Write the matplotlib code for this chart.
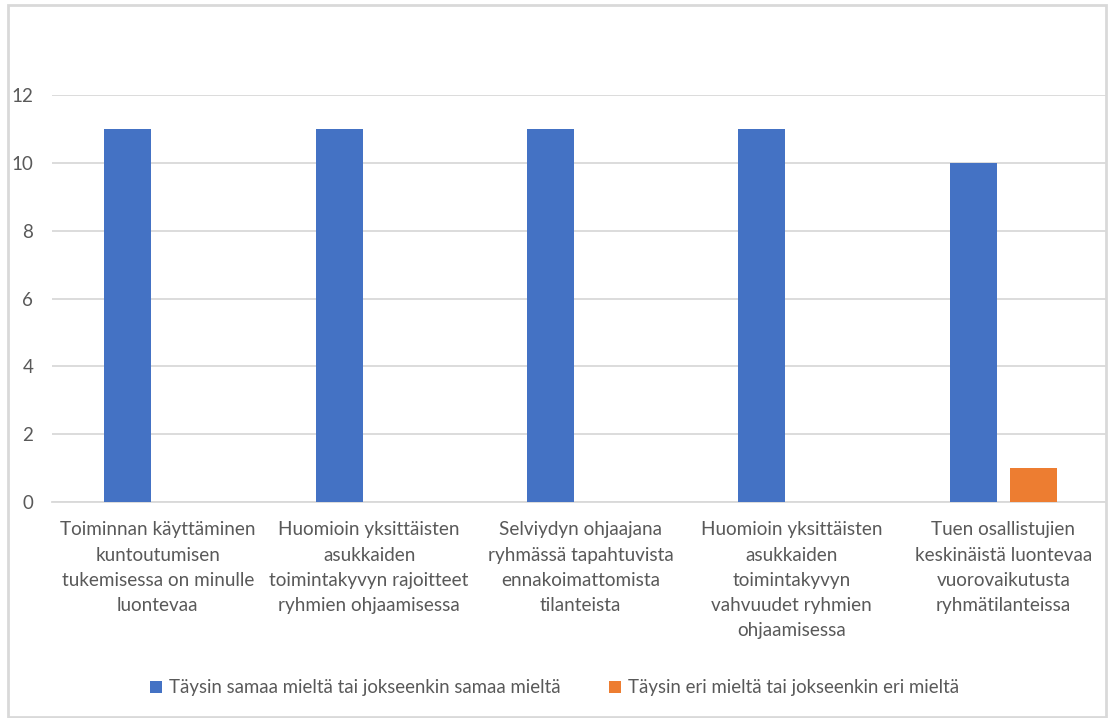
import matplotlib
matplotlib.use("Agg")
import matplotlib.pyplot as plt
import numpy as np
from matplotlib.patches import Rectangle

# ── Dados ─────────────────────────────────────────────────────
categorias = [
    "Toiminnan käyttäminen\nkuntoutumisen\ntukemisessa on minulle\nluontevaa",
    "Huomioin yksittäisten\nasukkaiden\ntoimintakyvyn rajoitteet\nryhmien ohjaamisessa",
    "Selviydyn ohjaajana\nryhmässä tapahtuvista\nennakoimattomista\ntilanteista",
    "Huomioin yksittäisten\nasukkaiden\ntoimintakyvyn\nvahvuudet ryhmien\nohjaamisessa",
    "Tuen osallistujien\nkeskinäistä luontevaa\nvuorovaikutusta\nryhmätilanteissa",
]
samaa_mielta = [11, 11, 11, 11, 10]
eri_mielta   = [0, 0, 0, 0, 1]
serie_nomes  = ["Täysin samaa mieltä tai jokseenkin samaa mieltä",
                "Täysin eri mieltä tai jokseenkin eri mieltä"]
y_ticks      = [0, 2, 4, 6, 8, 10, 12]
# ─────────────────────────────────────────────────────────────

AZUL    = "#4472c4"
LARANJA = "#ed7d31"
CINZA   = "#d9d9d9"
TEXTO   = "#595959"

plt.rcParams["font.family"] = ["Lato", "DejaVu Sans"]

fig = plt.figure(figsize=(11.09, 7.18), dpi=100)
ax = fig.add_axes([52 / 1109, 1 - 502 / 718, (1106 - 52) / 1109, (502 - 95) / 718])

x = np.arange(len(categorias))
larg = 0.223
desl = 0.142
ax.bar(x - desl, samaa_mielta, width=larg, color=AZUL, label=serie_nomes[0], zorder=3)
ax.bar(x + desl, eri_mielta, width=larg, color=LARANJA, label=serie_nomes[1], zorder=3)

ax.set_xlim(-0.5, len(categorias) - 0.5 - 0.014)
ax.set_ylim(0, 12)
ax.set_yticks(y_ticks)
ax.set_yticklabels([str(v) for v in y_ticks], fontsize=13.5, color=TEXTO)
ax.set_xticks(x)
ax.set_xticklabels(categorias, fontsize=13.6, color=TEXTO, linespacing=1.58)
ax.tick_params(axis="both", length=0)
ax.tick_params(axis="y", pad=13.5)
ax.tick_params(axis="x", pad=14)

ax.grid(axis="y", color=CINZA, lw=1.3, zorder=0)
for lado in ["top", "right", "left"]:
    ax.spines[lado].set_visible(False)
ax.spines["bottom"].set_color(CINZA)
ax.spines["bottom"].set_linewidth(1.3)

leg = fig.legend(loc="center", bbox_to_anchor=(0.5, 1 - 688 / 718), ncol=2,
                 frameon=False, fontsize=13.4, handlelength=0.65, handleheight=0.65,
                 handletextpad=0.35, columnspacing=2.6)
for t in leg.get_texts():
    t.set_color(TEXTO)

# moldura do gráfico
fig.patches.append(Rectangle((8 / 1109, 0.002), (1106 - 8) / 1109, 1 - 5 / 718 - 0.002,
                             transform=fig.transFigure, fill=False,
                             edgecolor=CINZA, lw=2))

fig.savefig("out.png", dpi=100)
